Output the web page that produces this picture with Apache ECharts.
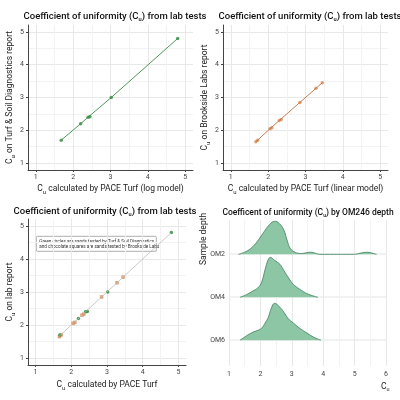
<!DOCTYPE html>
<html>
<head>
<meta charset="utf-8">
<script src="https://cdn.jsdelivr.net/npm/echarts@6/dist/echarts.min.js"></script>
<style>html,body{margin:0;padding:0;background:#fff}#main{width:400px;height:400px}</style>
</head>
<body>
<div id="main"></div>
<script>
// Turf & Soil Diagnostics: [PACE log model, lab report]
var tsdPoints = [[1.68, 1.7], [2.2, 2.2], [2.4, 2.4], [2.45, 2.41], [3.02, 3.0], [4.8, 4.8]];
// Brookside Labs: [PACE linear model, lab report]
var brookPoints = [[1.67, 1.65], [1.72, 1.7], [2.05, 2.05], [2.1, 2.08], [2.3, 2.3], [2.35, 2.33], [2.85, 2.85], [3.28, 3.28], [3.45, 3.45]];
var fitLine = [[1.65, 1.65], [4.8, 4.8]];
var tickLabels = [1, 2, 3, 4, 5];
var depths = ['OM6', 'OM4', 'OM2'];
// density heights (row units)
var om2X = [1.3, 1.5, 1.7, 1.9, 2.1, 2.3, 2.45, 2.6, 2.75, 2.85, 2.95, 3.1, 3.3, 3.6, 3.9, 5.0, 5.2, 5.4, 5.6, 5.7];
var om2H = [0, 0.05, 0.14, 0.3, 0.51, 0.7, 0.77, 0.72, 0.56, 0.33, 0.14, 0.05, 0.02, 0.05, 0, 0, 0.03, 0.05, 0.02, 0];
var om4X = [1.35, 1.55, 1.77, 1.92, 2.04, 2.15, 2.25, 2.32, 2.45, 2.62, 2.75, 2.88, 3.05, 3.25, 3.5, 3.83];
var om4H = [0, 0.06, 0.15, 0.22, 0.35, 0.65, 0.88, 0.93, 0.86, 0.77, 0.62, 0.47, 0.3, 0.19, 0.08, 0];
var om6X = [1.35, 1.55, 1.77, 1.92, 2.04, 2.15, 2.25, 2.35, 2.45, 2.62, 2.75, 2.88, 3.05, 3.25, 3.5, 3.7, 3.93];
var om6H = [0, 0.1, 0.19, 0.23, 0.28, 0.4, 0.53, 0.75, 0.86, 0.77, 0.65, 0.51, 0.4, 0.28, 0.16, 0.07, 0];

var green = '#3c8a46', greenPt = '#2e8b3e', orange = '#d98a55', ridgeFill = '#8cc6a4', ridgeLine = '#3f7f5e';
var fontFam = 'Roboto';
var rich = {s: {fontSize: 6, verticalAlign: 'bottom', padding: [6, 0, 0, 0], fontFamily: fontFam, color: '#222'}};

function title(txt, cx, top, size) {
  return {text: txt, left: cx, top: top, textAlign: 'center',
    textStyle: {fontSize: size, fontWeight: 500, color: '#111', fontFamily: fontFam, rich: {s: {fontSize: size * 0.6, verticalAlign: 'bottom', padding: [size * 0.6, 0, 0, 0], color: '#111'}}}};
}
function scatterAxis(idx, name, gap) {
  return {
    gridIndex: idx, type: 'value', min: 0.79, max: 5.21,
    name: name, nameLocation: 'middle', nameGap: gap,
    nameTextStyle: {fontSize: 8.5, color: '#222', fontFamily: fontFam, rich: rich},
    axisLine: {show: true, lineStyle: {color: '#444', width: 1}},
    axisTick: {show: true, customValues: tickLabels, length: 2, lineStyle: {color: '#444'}},
    axisLabel: {customValues: tickLabels, fontSize: 7, color: '#444', fontFamily: fontFam, margin: 4},
    splitLine: {show: true, lineStyle: {color: '#e8e8e8'}},
    minorTick: {show: false, splitNumber: 2},
    minorSplitLine: {show: true, lineStyle: {color: '#f3f3f3'}}
  };
}
function ridgeSeries(xs, hs, base) {
  return {type: 'line', xAxisIndex: 3, yAxisIndex: 3, smooth: 0.4, symbol: 'none',
    data: xs.map(function (x, i) { return [x, base + hs[i]]; }),
    lineStyle: {color: ridgeLine, width: 0.8}, areaStyle: {color: ridgeFill, opacity: 1, origin: base}};
}
function hline(y) {
  return {type: 'line', shape: {x1: 229, y1: y, x2: 386, y2: y}, style: {stroke: '#ddd', lineWidth: 0.8}, z: -1};
}

var chart = echarts.init(document.getElementById('main'));
chart.setOption({
  animation: false,
  title: [
    title('Coefficient of uniformity (C{s|u}) from lab tests', 110, 6, 9.5),
    title('Coefficient of uniformity (C{s|u}) from lab tests', 305, 6, 9.5),
    title('Coefficient of uniformity (C{s|u}) from lab tests', 100, 201, 9.5),
    title('Coefficent of uniformity (C{s|u}) by OM246 depth', 303, 203, 8.5)
  ],
  grid: [
    {left: 28, top: 25, width: 165, height: 145},
    {left: 223, top: 25, width: 165, height: 145},
    {left: 28, top: 219, width: 158, height: 146},
    {left: 229, top: 220, width: 157, height: 146}
  ],
  xAxis: [
    scatterAxis(0, 'C{s|u} calculated by PACE Turf (log model)', 13),
    scatterAxis(1, 'C{s|u} calculated by PACE Turf (linear model)', 13),
    scatterAxis(2, 'C{s|u} calculated by PACE Turf', 14),
    {gridIndex: 3, type: 'value', min: 1, max: 6, interval: 1,
      axisLine: {show: false}, axisTick: {show: false},
      axisLabel: {fontSize: 7, color: '#444', fontFamily: fontFam, margin: 5},
      splitLine: {show: true, lineStyle: {color: '#e8e8e8'}},
      minorTick: {show: false, splitNumber: 2},
      minorSplitLine: {show: true, lineStyle: {color: '#f3f3f3'}}}
  ],
  yAxis: [
    scatterAxis(0, 'C{s|u} on Turf & Soil Diagnostics report', 12),
    scatterAxis(1, 'C{s|u} on Brookside Labs report', 12),
    scatterAxis(2, 'C{s|u} on lab report', 12),
    {gridIndex: 3, type: 'value', min: -0.6, max: 2.8,
      axisLine: {show: false}, axisTick: {show: false},
      axisLabel: {customValues: [0, 1, 2], fontSize: 7, color: '#444', fontFamily: fontFam, margin: 4,
        formatter: function (v) { return depths[Math.round(v)]; }},
      splitLine: {show: false}}
  ],
  graphic: [
    {type: 'group', left: 36, top: 236, children: [
      {type: 'rect', shape: {x: 0, y: 0, width: 120, height: 15, r: 1}, style: {fill: '#fff', stroke: '#777', lineWidth: 0.6}},
      {type: 'text', x: 3, y: 2.3, style: {text: 'Green circles are sands tested by Turf & Soil Diagnostics\nand chocolate squares are sands tested by Brookside Labs', fontSize: 4.6, lineHeight: 5.6, fill: '#333', fontFamily: fontFam}}
    ]},
    {type: 'text', x: 199, y: 265, rotation: Math.PI / 2, style: {text: 'Sample depth', fontSize: 8.5, fill: '#222', fontFamily: fontFam}},
    {type: 'text', x: 381, y: 381, style: {text: 'C{s|u}', fontSize: 8.5, fill: '#222', fontFamily: fontFam, rich: {s: {fontSize: 5.5, padding: [5, 0, 0, 0], verticalAlign: 'bottom', fill: '#222'}}}},
    hline(254), hline(297), hline(340)
  ],
  series: [
    {type: 'line', xAxisIndex: 0, yAxisIndex: 0, data: tsdPoints, symbol: 'none', lineStyle: {color: green, width: 0.9}},
    {type: 'scatter', xAxisIndex: 0, yAxisIndex: 0, data: tsdPoints, symbolSize: 3.5, itemStyle: {color: greenPt}},
    {type: 'line', xAxisIndex: 1, yAxisIndex: 1, data: brookPoints, symbol: 'none', lineStyle: {color: '#c07040', width: 0.9}},
    {type: 'scatter', xAxisIndex: 1, yAxisIndex: 1, data: brookPoints, symbolSize: 3.5, itemStyle: {color: orange, opacity: 0.8}},
    {type: 'line', xAxisIndex: 2, yAxisIndex: 2, data: fitLine, symbol: 'none', lineStyle: {color: '#bbb', width: 0.8}},
    {type: 'scatter', xAxisIndex: 2, yAxisIndex: 2, data: brookPoints, symbol: 'rect', symbolSize: 3.5, itemStyle: {color: orange, opacity: 0.8}},
    {type: 'scatter', xAxisIndex: 2, yAxisIndex: 2, data: tsdPoints, symbolSize: 3.5, itemStyle: {color: greenPt, opacity: 0.85}},
    ridgeSeries(om2X, om2H, 2),
    ridgeSeries(om4X, om4H, 1),
    ridgeSeries(om6X, om6H, 0)
  ]
});
</script>
</body>
</html>
